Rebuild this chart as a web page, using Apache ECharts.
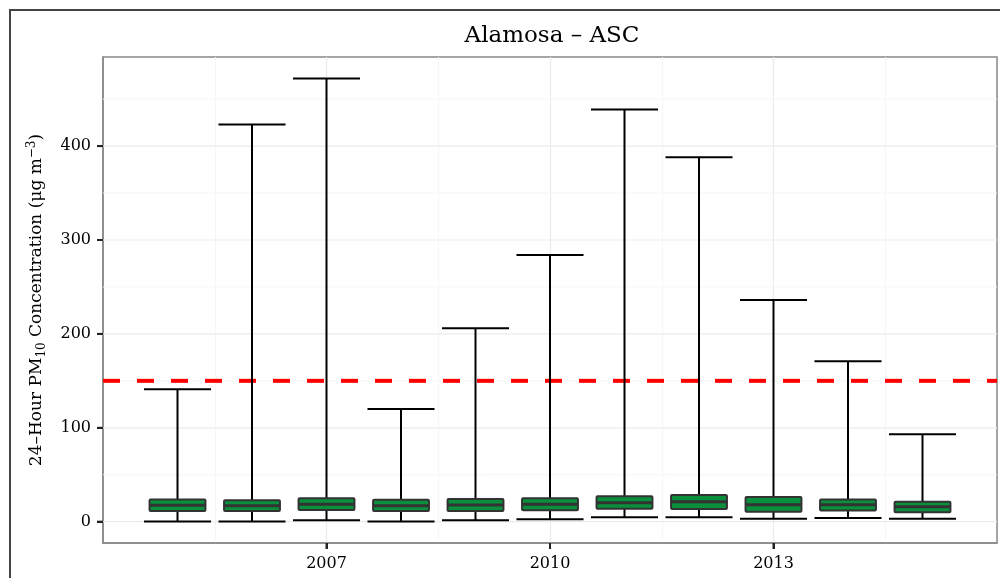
<!DOCTYPE html>
<html><head><meta charset="utf-8">
<script src="https://cdn.jsdelivr.net/npm/echarts@6/dist/echarts.min.js"></script>
<style>html,body{margin:0;padding:0;background:#fff}#c{width:1000px;height:578px}</style>
</head><body><div id="c"></div>
<script>
// ---- data ----
const years = [2005, 2006, 2007, 2008, 2009, 2010, 2011, 2012, 2013, 2014, 2015];
const lowV  = [0.3, 0.2, 1.5, 0.3, 1.5, 2.5, 4.7, 4.7, 3.2, 3.9, 3.2];
const q1V   = [11.4, 11.4, 12.5, 11.4, 11.4, 12.1, 13.9, 13.5, 10.7, 12.0, 10.0];
const medV  = [17.4, 17.0, 18.5, 17.0, 17.8, 18.5, 20.3, 21.3, 18.1, 18.0, 16.0];
const q3V   = [23.6, 22.8, 24.9, 23.4, 24.2, 24.9, 27.0, 28.4, 26.3, 23.5, 21.3];
const highV = [141, 423, 472, 120, 206, 284, 439, 388, 236, 171, 93];
const standard = [150];
const xTickLabels = [2007, 2010, 2013];
const yTickLabels = [0, 100, 200, 300, 400];
const yGridMajor = [0, 100, 200, 300, 400];
const yGridMinor = [50, 150, 250, 350, 450];
const titleText = 'Alamosa – ASC';

// ---- chart ----
const FONT = 'DejaVu Serif';
const GREEN = '#0A8F3C';
const TXT = '#000';
const TICK = {stroke: '#222', lineWidth: 2};
const chart = echarts.init(document.getElementById('c'), null, {renderer: 'canvas'});

const boxData = years.map((y, i) => [y, lowV[i], q1V[i], medV[i], q3V[i], highV[i]]);
const gridData = yGridMajor.map(v => [2010, v, 0]).concat(yGridMinor.map(v => [2010, v, 1]));
const stdData = standard.map(v => [2010, v]);
const tickData = xTickLabels.map(v => [v, 100, 0]).concat(yTickLabels.map(v => [2010, v, 1]));

const option = {
  animation: false,
  backgroundColor: '#fff',
  title: {
    text: titleText, left: 547, top: 20, textAlign: 'center',
    textStyle: {fontFamily: FONT, fontSize: 23, fontWeight: 'normal', color: TXT}
  },
  graphic: [{
    type: 'rect', shape: {x: 10, y: 10, width: 1000, height: 600}, silent: true, z: 100,
    style: {fill: null, stroke: '#444', lineWidth: 2}
  }],
  grid: {left: 103, top: 57, right: 3, bottom: 35, show: true, borderColor: '#888', borderWidth: 1.5, backgroundColor: 'transparent'},
  xAxis: {
    type: 'value', min: 2004, max: 2016, interval: 3, position: 'bottom',
    axisLine: {show: true, onZero: false, lineStyle: {color: '#888', width: 1.5}},
    axisTick: {show: true, inside: false, length: 6, lineStyle: {color: '#222', width: 2}, customValues: xTickLabels},
    axisLabel: {customValues: xTickLabels, fontFamily: FONT, fontSize: 16, color: TXT, margin: 13, formatter: v => String(v)},
    splitLine: {show: true, lineStyle: {color: '#ebebeb', width: 1.2}},
    minorTick: {show: false, splitNumber: 2},
    minorSplitLine: {show: true, lineStyle: {color: '#f6f6f6', width: 1}}
  },
  yAxis: {
    type: 'value', min: -22.7, max: 494.9, position: 'left',
    axisLine: {show: true, onZero: false, lineStyle: {color: '#888', width: 1.5}},
    splitLine: {show: false},
    axisTick: {show: true, inside: false, length: 6, lineStyle: {color: '#222', width: 2}, customValues: yTickLabels},
    axisLabel: {customValues: yTickLabels, fontFamily: FONT, fontSize: 16, color: TXT, margin: 12},
    name: '24–Hour PM{sub|10} Concentration (μg m{sup|−3})',
    nameLocation: 'middle', nameRotate: 90, nameGap: 55,
    nameTextStyle: {
      fontFamily: FONT, fontSize: 17, color: TXT, lineHeight: 22,
      rich: {
        sub: {fontFamily: FONT, fontSize: 12, lineHeight: 11, verticalAlign: 'bottom', color: TXT},
        sup: {fontFamily: FONT, fontSize: 12, lineHeight: 11, verticalAlign: 'top', color: TXT}
      }
    }
  },
  series: [
    {
      type: 'custom', z: 1, silent: true,
      data: gridData, encode: {x: 0, y: 1},
      renderItem: (params, api) => {
        const cs = params.coordSys;
        const y = api.coord([2010, api.value(1)])[1];
        const minor = api.value(2) === 1;
        return {type: 'line', shape: {x1: cs.x, y1: y, x2: cs.x + cs.width, y2: y},
          style: {stroke: minor ? '#f6f6f6' : '#ebebeb', lineWidth: minor ? 1 : 1.2}};
      }
    },
    {
      type: 'custom', z: 2, silent: true, clip: false,
      data: tickData, encode: {x: 0, y: 1},
      renderItem: (params, api) => {
        const cs = params.coordSys;
        const p = api.coord([api.value(0), api.value(1)]);
        if (api.value(2) === 0) {
          const yb = cs.y + cs.height;
          return {type: 'line', shape: {x1: p[0], y1: yb, x2: p[0], y2: yb + 6}, style: TICK};
        }
        return {type: 'line', shape: {x1: cs.x - 6, y1: p[1], x2: cs.x, y2: p[1]}, style: TICK};
      }
    },
    {
      type: 'custom', z: 2, silent: true,
      data: stdData, encode: {x: 0, y: 1},
      renderItem: (params, api) => {
        const cs = params.coordSys;
        const y = api.coord([2010, api.value(1)])[1];
        return {type: 'line', shape: {x1: cs.x, y1: y, x2: cs.x + cs.width, y2: y},
          style: {stroke: '#ff0000', lineWidth: 4, lineDash: [17, 17]}};
      }
    },
    {
      type: 'custom', z: 3, silent: true,
      data: boxData, encode: {x: 0, y: [1, 2, 3, 4, 5]},
      renderItem: (params, api) => {
        const x = api.value(0);
        const pL = api.coord([x, api.value(1)]);
        const p1 = api.coord([x, api.value(2)]);
        const pM = api.coord([x, api.value(3)]);
        const p3 = api.coord([x, api.value(4)]);
        const pH = api.coord([x, api.value(5)]);
        const bw = api.size([0.75, 0])[0];
        const cw = api.size([0.9, 0])[0];
        const cx = pL[0];
        const blk = {stroke: '#000', lineWidth: 2};
        return {type: 'group', children: [
          {type: 'line', shape: {x1: cx, y1: p3[1], x2: cx, y2: pH[1]}, style: blk},
          {type: 'line', shape: {x1: cx, y1: p1[1], x2: cx, y2: pL[1]}, style: blk},
          {type: 'line', shape: {x1: cx - cw / 2, y1: pH[1], x2: cx + cw / 2, y2: pH[1]}, style: blk},
          {type: 'line', shape: {x1: cx - cw / 2, y1: pL[1], x2: cx + cw / 2, y2: pL[1]}, style: blk},
          {type: 'rect', shape: {x: cx - bw / 2, y: p3[1], width: bw, height: p1[1] - p3[1], r: 1},
            style: {fill: GREEN, stroke: '#333', lineWidth: 2}},
          {type: 'line', shape: {x1: cx - bw / 2, y1: pM[1], x2: cx + bw / 2, y2: pM[1]},
            style: {stroke: '#333', lineWidth: 3}}
        ]};
      }
    }
  ]
};
chart.setOption(option);
</script>
</body></html>
